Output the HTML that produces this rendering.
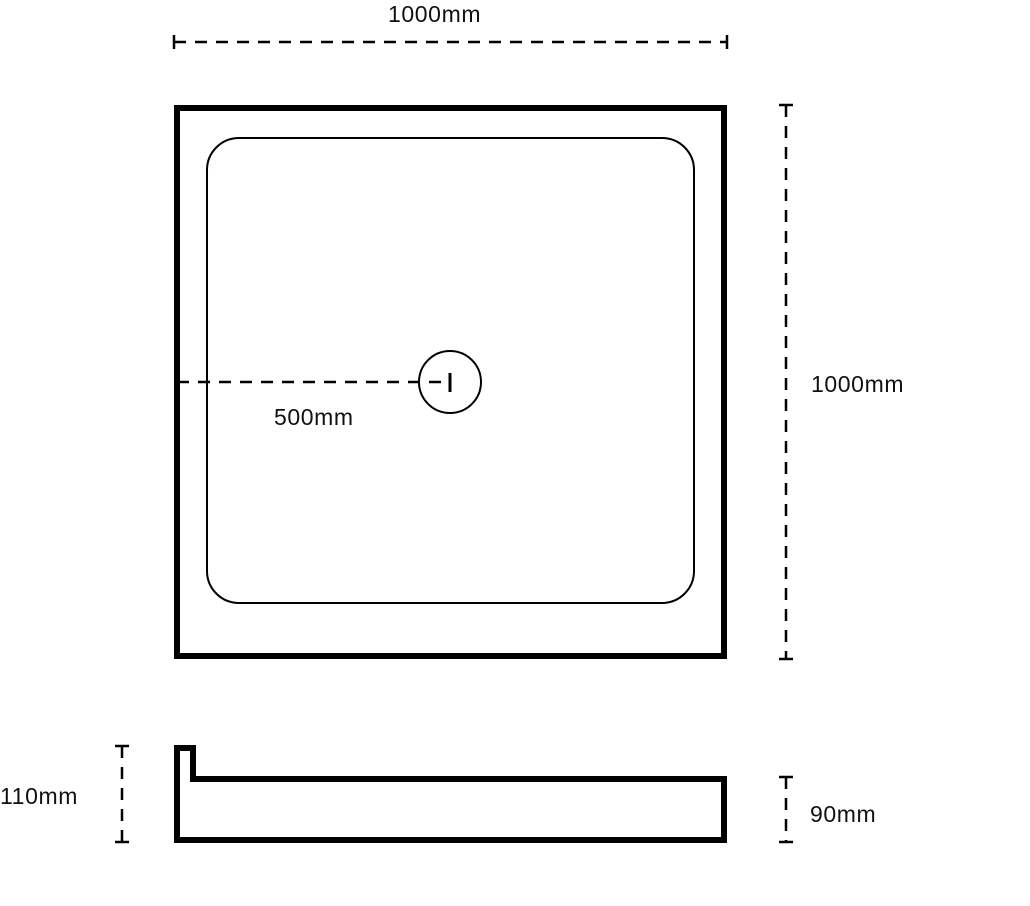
<!DOCTYPE html>
<html><head><style>
body{margin:0;background:#fff;}
svg text{font-family:"Liberation Sans",sans-serif;font-size:23px;letter-spacing:0.6px;fill:#111;}
</style></head><body>
<svg width="1030" height="901" viewBox="0 0 1030 901" xmlns="http://www.w3.org/2000/svg">
<g stroke="#000" fill="none">
<line x1="174" y1="42" x2="727" y2="42" stroke-width="2.5" stroke-dasharray="12,9"/>
<line x1="174" y1="35" x2="174" y2="49" stroke-width="2.5"/>
<line x1="727" y1="35" x2="727" y2="49" stroke-width="2.5"/>
<rect x="177" y="108" width="547" height="548" stroke-width="6"/>
<rect x="207" y="138" width="487" height="465" rx="32" stroke-width="2"/>
<circle cx="450" cy="382" r="31" stroke-width="2"/>
<line x1="177" y1="382" x2="450" y2="382" stroke-width="2.5" stroke-dasharray="12,9"/>
<line x1="450" y1="373" x2="450" y2="392" stroke-width="3"/>
<line x1="786" y1="105" x2="786" y2="659" stroke-width="2.5" stroke-dasharray="12,9"/>
<line x1="779" y1="105" x2="793" y2="105" stroke-width="2.5"/>
<line x1="779" y1="659" x2="793" y2="659" stroke-width="2.5"/>
<path d="M177 748 H193 V779 H724 V840 H177 Z" stroke-width="6"/>
<line x1="122" y1="746" x2="122" y2="842" stroke-width="2.5" stroke-dasharray="12,9"/>
<line x1="115" y1="746" x2="129" y2="746" stroke-width="2.5"/>
<line x1="115" y1="842" x2="129" y2="842" stroke-width="2.5"/>
<line x1="786" y1="777" x2="786" y2="842" stroke-width="2.5" stroke-dasharray="12,9"/>
<line x1="779" y1="777" x2="793" y2="777" stroke-width="2.5"/>
<line x1="779" y1="842" x2="793" y2="842" stroke-width="2.5"/>
</g>
<text x="388" y="22">1000mm</text>
<text x="811" y="392">1000mm</text>
<text x="274" y="425">500mm</text>
<text x="0" y="804">110mm</text>
<text x="810" y="822">90mm</text>
</svg>
</body></html>
